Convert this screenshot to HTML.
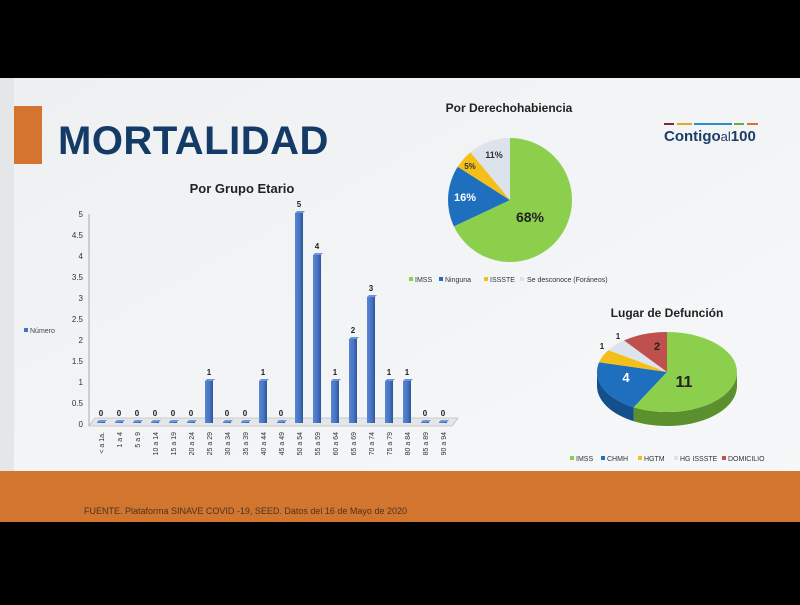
<!DOCTYPE html>
<html><head><meta charset="utf-8"><style>
body{margin:0;width:800px;height:600px;background:#000;overflow:hidden;font-family:"Liberation Sans",sans-serif}
</style></head><body>
<svg width="800" height="600" xmlns="http://www.w3.org/2000/svg" font-family="Liberation Sans, sans-serif">
<defs><linearGradient id="bg" x1="0" y1="0" x2="1" y2="1"><stop offset="0" stop-color="#eef0f2"/><stop offset="1" stop-color="#f7f8f9"/></linearGradient>
<linearGradient id="bar" x1="0" x2="1"><stop offset="0" stop-color="#5b86cf"/><stop offset="0.6" stop-color="#4472c4"/><stop offset="1" stop-color="#2d5596"/></linearGradient></defs>
<rect x="0" y="78" width="800" height="444" fill="url(#bg)"/>
<rect x="0" y="78" width="14" height="444" fill="#e4e6e8"/>
<rect x="14" y="106" width="28" height="58" fill="#d4742e"/>
<text x="58" y="154" font-size="40" font-weight="bold" fill="#143a66" letter-spacing="0.5">MORTALIDAD</text>
<rect x="0" y="471" width="800" height="51" fill="#d2752f"/>
<text x="84" y="514" font-size="9" fill="#4a3320">FUENTE. Plataforma SINAVE COVID -19, SEED. Datos del 16 de Mayo de 2020</text>
<g><rect x="664" y="123" width="10" height="2" fill="#7a2a3a"/><rect x="677" y="123" width="15" height="2" fill="#e0a92e"/><rect x="694" y="123" width="38" height="2" fill="#2a8fc9"/><rect x="734" y="123" width="10" height="2" fill="#6aa84f"/><rect x="747" y="123" width="11" height="2" fill="#d4742e"/>
<text x="664" y="141" font-size="15" font-weight="bold" fill="#1c3d66">Contigo<tspan font-weight="normal" font-size="13">al</tspan>100</text></g>
<text x="242" y="193" font-size="13" font-weight="bold" fill="#222" text-anchor="middle">Por Grupo Etario</text>
<rect x="24" y="328" width="4" height="4" fill="#4472c4"/><text x="30" y="333" font-size="7" fill="#444">Número</text>
<g font-size="8" fill="#333" text-anchor="end">
<text x="83" y="427">0</text><text x="83" y="406">0.5</text><text x="83" y="385">1</text><text x="83" y="364">1.5</text><text x="83" y="343">2</text><text x="83" y="322">2.5</text><text x="83" y="301">3</text><text x="83" y="280">3.5</text><text x="83" y="259">4</text><text x="83" y="238">4.5</text><text x="83" y="217">5</text></g>
<line x1="89" y1="214" x2="89" y2="426" stroke="#999" stroke-width="0.8"/>
<polygon points="89,426 452,426 458,418 95,418" fill="#e4e6ea" stroke="#aaa" stroke-width="0.6"/>
<g id="bars"></g>
<g font-size="7" fill="#333" id="xl"></g>
<text x="509" y="112" font-size="12" font-weight="bold" fill="#222" text-anchor="middle">Por Derechohabiencia</text>
<path d="M510,200 L510,138 A62,62 0 1 1 453.9,226.4 Z" fill="#8ccf4d"/>
<path d="M510,200 L453.9,226.4 A62,62 0 0 1 457.7,166.8 Z" fill="#1f6fbf"/>
<path d="M510,200 L457.7,166.8 A62,62 0 0 1 470.5,152.2 Z" fill="#f5bf1a"/>
<path d="M510,200 L470.5,152.2 A62,62 0 0 1 510,138 Z" fill="#dde3ec"/>
<text x="530" y="222" font-size="14" font-weight="bold" fill="#222" text-anchor="middle">68%</text>
<text x="465" y="201" font-size="11" font-weight="bold" fill="#fff" text-anchor="middle">16%</text>
<text x="470" y="169" font-size="8" font-weight="bold" fill="#333" text-anchor="middle">5%</text>
<text x="494" y="158" font-size="9" font-weight="bold" fill="#333" text-anchor="middle">11%</text>
<g font-size="7" fill="#333"><rect x="409" y="277" width="4" height="4" fill="#8ccf4d"/><text x="415" y="282">IMSS</text><rect x="439" y="277" width="4" height="4" fill="#1f6fbf"/><text x="445" y="282">Ninguna</text><rect x="484" y="277" width="4" height="4" fill="#f5bf1a"/><text x="490" y="282">ISSSTE</text><rect x="520" y="277" width="4" height="4" fill="#dde3ec"/><text x="527" y="282">Se desconoce (Foráneos)</text></g>
<text x="667" y="317" font-size="12" font-weight="bold" fill="#222" text-anchor="middle">Lugar de Defunción</text>
<path d="M737,372 A70,40 0 0 1 633.7,407.2 L633.7,421.2 A70,40 0 0 0 737,386 Z" fill="#5c8f2e"/>
<path d="M633.7,407.2 A70,40 0 0 1 597,372 L597,386 A70,40 0 0 0 633.7,421.2 Z" fill="#134f8a"/>
<path d="M667,372 L667,332 A70,40 0 1 1 633.7,407.2 Z" fill="#8ccf4d"/>
<path d="M667,372 L633.7,407.2 A70,40 0 0 1 599.1,362.2 Z" fill="#1f6fbf"/>
<path d="M667,372 L599.1,362.2 A70,40 0 0 1 608.4,350.1 Z" fill="#f5bf1a"/>
<path d="M667,372 L608.4,350.1 A70,40 0 0 1 624,340.4 Z" fill="#dde3ec"/>
<path d="M667,372 L624,340.4 A70,40 0 0 1 667,332 Z" fill="#c0504d"/>
<text x="684" y="387" font-size="16" font-weight="bold" fill="#222" text-anchor="middle">11</text>
<text x="626" y="382" font-size="13" font-weight="bold" fill="#fff" text-anchor="middle">4</text>
<text x="657" y="350" font-size="11" font-weight="bold" fill="#222" text-anchor="middle">2</text>
<text x="602" y="349" font-size="8" font-weight="bold" fill="#222" text-anchor="middle">1</text>
<text x="618" y="339" font-size="8" font-weight="bold" fill="#222" text-anchor="middle">1</text>
<g font-size="7" fill="#333"><rect x="570" y="456" width="4" height="4" fill="#8ccf4d"/><text x="576" y="461">IMSS</text><rect x="601" y="456" width="4" height="4" fill="#1f6fbf"/><text x="607" y="461">CHMH</text><rect x="638" y="456" width="4" height="4" fill="#f5bf1a"/><text x="644" y="461">HGTM</text><rect x="674" y="456" width="4" height="4" fill="#dde3ec"/><text x="680" y="461">HG ISSSTE</text><rect x="722" y="456" width="4" height="4" fill="#c0504d"/><text x="728" y="461">DOMICILIO</text></g>
</svg>
<script>
(function(){
var v=[0,0,0,0,0,0,1,0,0,1,0,5,4,1,2,3,1,1,0,0];
var l=["< a 1a.","1 a 4","5 a 9","10 a 14","15 a 19","20 a 24","25 a 29","30 a 34","35 a 39","40 a 44","45 a 49","50 a 54","55 a 59","60 a 64","65 a 69","70 a 74","75 a 79","80 a 84","85 a 89","90 a 94"];
var ns="http://www.w3.org/2000/svg",b=document.getElementById("bars"),xl=document.getElementById("xl");
function mk(t,a,p,txt){var e=document.createElementNS(ns,t);for(var k in a)e.setAttribute(k,a[k]);if(txt!=null)e.textContent=txt;p.appendChild(e);return e;}
for(var i=0;i<20;i++){var cx=101+i*18,h=Math.max(v[i]*42,1),ty=423-h;
mk("rect",{x:cx-4,y:ty,width:8,height:h,fill:"url(#bar)"},b);
mk("polygon",{points:(cx-4)+","+ty+" "+(cx+4)+","+ty+" "+(cx+6)+","+(ty-2)+" "+(cx-2)+","+(ty-2),fill:"#6e95d8"},b);
mk("text",{x:cx,y:ty-6,"font-size":8,"font-weight":"bold",fill:"#222","text-anchor":"middle"},b,String(v[i]));
mk("text",{transform:"translate("+(cx+3)+",432) rotate(-90)","text-anchor":"end"},xl,l[i]);}
})();
</script>
</body></html>
